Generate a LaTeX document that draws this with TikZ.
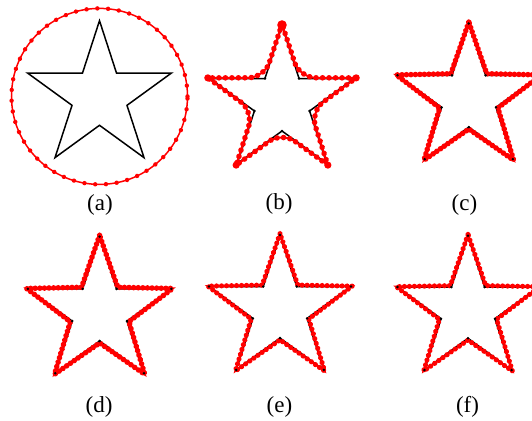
\documentclass[tikz,border=0pt]{standalone}
\usepackage{fontspec}
\setmainfont{Liberation Serif}
\usetikzlibrary{decorations.markings}
\tikzset{
  starline/.style={line width=1.5pt, black, line join=miter},
  beads/.style n args={3}{red, line width=#3, postaction={decorate},
    decoration={markings, mark=between positions 0 and 1 step #1 with {\fill[red] (0,0) circle (#2);}}},
  lbl/.style={font=\fontsize{23}{23}\selectfont, inner sep=0pt},
  starp/.style 2 args={insert path={(90:#1) -- (126:#2) -- (162:#1) -- (198:#2) -- (234:#1) -- (270:#2) -- (306:#1) -- (342:#2) -- (18:#1) -- (54:#2) -- cycle}},
}
\newcommand\vertdots[2]{%
  \foreach \a in {90,162,234,306,18} {\fill (\a:#1) circle (1.4pt);}
  \foreach \a in {126,198,270,342,54} {\fill (\a:#2) circle (1.4pt);}
}
\begin{document}
\begin{tikzpicture}[x=1pt,y=1pt]
\useasboundingbox (0,0) rectangle (532,420);
\clip (0,0) rectangle (532,420);
% (a)
\begin{scope}[shift={(99.5,323.6)}]
  \draw[starline, starp={75.7}{28.9}];
  \draw[beads={10.8pt}{2.2pt}{1.5pt}] (0,0) circle (88);
\end{scope}
\node[lbl] (la) at (100,215.5) {(a)};
% (b)
\begin{scope}[shift={(282,318)}]
  \draw[starline, starp={76}{29}];
  \vertdots{76}{29}
  \draw[beads={6.5pt}{2.8pt}{2pt}] (90:78) [rounded corners=16pt] -- (126:30) [sharp corners] -- (162:78) [rounded corners=16pt] -- (198:30) [sharp corners] -- (234:78) [rounded corners=16pt] -- (270:30) [sharp corners] -- (306:78) [rounded corners=16pt] -- (342:30) [sharp corners] -- (18:78) [rounded corners=16pt] -- (54:30) [sharp corners] -- cycle;
  \fill[red] (90:77) circle (4.8pt);
  \foreach \a in {162,234,306,18} {\fill[red] (\a:78) circle (3.6pt);}
\end{scope}
\node[lbl] (lb) at (279,216) {(b)};
% (c)
\begin{scope}[shift={(468.8,321.5)}]
  \draw[starline, starp={75}{28.6}];
  \draw[beads={4.5pt}{2.8pt}{2.2pt}, starp={76.3}{30.6}];
  \vertdots{75}{28.6}
\end{scope}
\node[lbl] (lc) at (464.5,215.5) {(c)};
% (d)
\begin{scope}[shift={(99.6,107.8)}]
  \draw[starline, starp={75.5}{28.8}];
  \draw[beads={4.6pt}{2.8pt}{2.2pt}, starp={76.8}{30.8}];
  \vertdots{75.5}{28.8}
\end{scope}
\node[lbl] (ld) at (99,13.5) {(d)};
% (e)
\begin{scope}[shift={(280,110.4)}]
  \draw[starline, starp={74.6}{28.5}];
  \draw[beads={5pt}{2.6pt}{2pt}, starp={75.9}{30.3}];
  \vertdots{74.6}{28.5}
\end{scope}
\node[lbl] (le) at (279.5,13.5) {(e)};
% (f)
\begin{scope}[shift={(468,110)}]
  \draw[starline, starp={74.2}{28.3}];
  \draw[beads={5pt}{2.6pt}{2pt}, starp={75.5}{30.1}];
  \vertdots{74.2}{28.3}
\end{scope}
\node[lbl] (lf) at (467.5,13.5) {(f)};
\end{tikzpicture}
\end{document}
